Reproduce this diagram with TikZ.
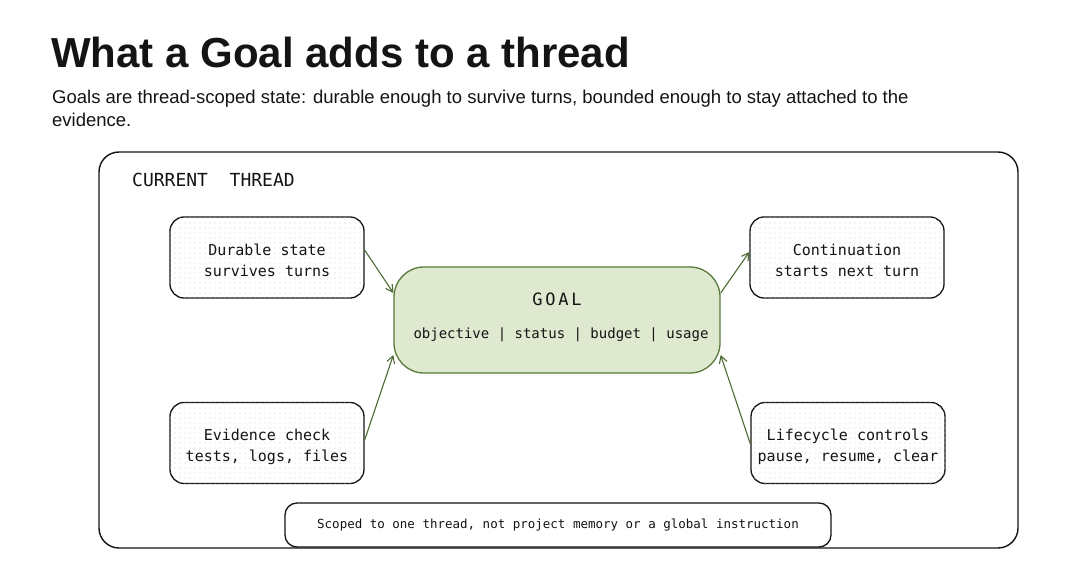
\documentclass[tikz,border=0pt]{standalone}
\usepackage{fontspec}
\setmainfont{Liberation Sans}
\newfontfamily\monof{DejaVu Sans Mono}
\usetikzlibrary{arrows.meta,patterns.meta}
\definecolor{goalfill}{HTML}{DEE9D0}
\definecolor{goaldraw}{HTML}{5A7A3C}
\definecolor{arrowc}{HTML}{4E6A30}
\definecolor{ink}{HTML}{141414}
\newcommand\cardtxt[2]{\raisebox{-4pt}[\height][\depth]{\begin{tabular}{@{}c@{}}#1\\#2\end{tabular}}}
\tikzset{
  card/.style={draw=ink, line width=1.3pt, rounded corners=14pt, fill=white,
    postaction={pattern={Dots[distance=5pt,radius=0.6pt]}, pattern color=black!18},
    minimum width=194pt, minimum height=81pt, align=center,
    font=\monof\fontsize{15}{21}\selectfont, text=ink, inner sep=0pt},
  goalbox/.style={draw=goaldraw, line width=1.3pt, rounded corners=30pt, fill=goalfill,
    minimum width=326pt, minimum height=106pt, inner sep=0pt},
  link/.style={draw=arrowc, line width=1.1pt, -{Straight Barb[length=7pt,width=8pt]}},
}
\begin{document}
\begin{tikzpicture}[x=1pt,y=-1pt]
\useasboundingbox (0,0) rectangle (1080,583);
\fill[white] (0,0) rectangle (1080,583);
% title
\node[anchor=base west, inner sep=0pt, font=\fontsize{42}{46}\selectfont\bfseries, text=ink] (title) at (51,68) {What a Goal adds to a thread};
\node[anchor=base west, inner sep=0pt, font=\fontsize{18.5}{23}\selectfont, text=ink, align=left] (sub) at (52,104) {Goals are thread-scoped state: durable enough to survive turns, bounded enough to stay attached to the};
\node[anchor=base west, inner sep=0pt, font=\fontsize{18.5}{23}\selectfont, text=ink] (sub2) at (52,127) {evidence.};
% outer frame
\node[draw=ink, line width=1.4pt, rounded corners=20pt, minimum width=919pt, minimum height=396pt, inner sep=0pt] (frame) at (558.5,350) {};
\node[anchor=base west, inner sep=0pt, font=\monof\fontsize{18}{20}\selectfont, text=ink] (lbl) at (132,187) {CURRENT\ \ THREAD};
% cards
\node[card] (dur) at (267,257.5) {\cardtxt{Durable state}{survives turns}};
\node[card] (cont) at (847,257.5) {\cardtxt{Continuation}{starts next turn}};
\node[card] (evid) at (267,443) {\cardtxt{Evidence check}{tests, logs, files}};
\node[card] (life) at (848,443) {\cardtxt{Lifecycle controls}{pause, resume, clear}};
% goal
\node[goalbox] (goal) at (557,320) {};
\node[font=\monof\fontsize{17}{20}\selectfont, text=ink, inner sep=0pt] (goalt) at (557,299) {G\,O\,A\,L};
\node[font=\monof\fontsize{14}{18}\selectfont, text=ink, inner sep=0pt] (goalf) at (561,335) {objective | status | budget | usage};
% connectors
\draw[link] ([yshift=7.5pt]dur.east) -- ([yshift=27pt]goal.west);
\draw[link] ([yshift=3pt]evid.east) -- ([yshift=-35pt]goal.west);
\draw[link] ([yshift=27pt]goal.east) -- ([yshift=5.5pt]cont.west);
\draw[link] ([yshift=-1pt]life.west) -- ([yshift=-35pt]goal.east);
% note
\node[draw=ink, line width=1.3pt, rounded corners=12pt, fill=white, minimum width=546pt, minimum height=44pt, inner sep=0pt, font=\monof\fontsize{12.5}{15}\selectfont, text=ink] (note) at (558,525) {Scoped to one thread, not project memory or a global instruction};
\end{tikzpicture}
\end{document}
